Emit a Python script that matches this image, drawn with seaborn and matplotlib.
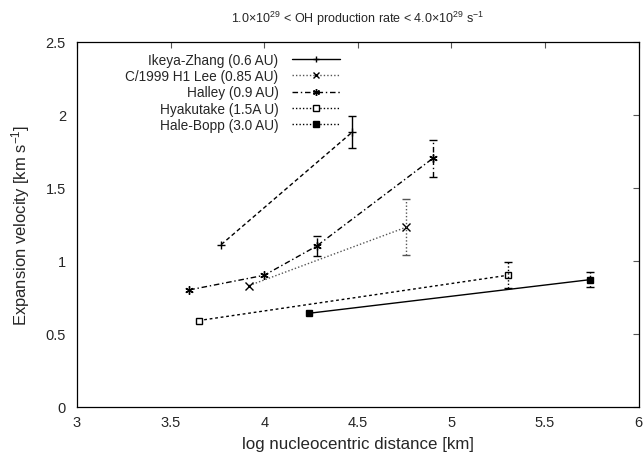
import matplotlib
matplotlib.use("Agg")
import matplotlib.pyplot as plt
import numpy as np
import pandas as pd
import seaborn as sns
from matplotlib.lines import Line2D
from matplotlib.ticker import FormatStrFormatter, MultipleLocator

NAN = np.nan

LABELS = [
    "Ikeya-Zhang (0.6 AU)",
    "C/1999 H1 Lee (0.85 AU)",
    "Halley (0.9 AU)",
    "Hyakutake (1.5A U)",
    "Hale-Bopp (3.0 AU)",
]

# log distance, velocity, lower / upper error bound (NaN = no bar)
IKEYA_X = [3.77, 4.47]
IKEYA_Y = [1.11, 1.88]
IKEYA_LO = [NAN, 1.77]
IKEYA_HI = [NAN, 1.99]

LEE_X = [3.92, 4.76]
LEE_Y = [0.83, 1.23]
LEE_LO = [NAN, 1.04]
LEE_HI = [NAN, 1.42]

HALLEY_X = [3.60, 4.00, 4.28, 4.90]
HALLEY_Y = [0.80, 0.90, 1.10, 1.70]
HALLEY_LO = [NAN, NAN, 1.03, 1.57]
HALLEY_HI = [NAN, NAN, 1.17, 1.83]

HYAKUTAKE_X = [3.65, 5.30]
HYAKUTAKE_Y = [0.59, 0.90]
HYAKUTAKE_LO = [NAN, 0.81]
HYAKUTAKE_HI = [NAN, 0.99]

HALEBOPP_X = [4.24, 5.74]
HALEBOPP_Y = [0.64, 0.87]
HALEBOPP_LO = [NAN, 0.82]
HALEBOPP_HI = [NAN, 0.92]

ASTERISK = (6, 2, 0)

# (line style on plot, line style in key / error bar, marker, filled, colour)
STYLES = [
    ((0, (3, 2)), "-", "+", True, "black"),
    ((0, (1, 1.5)), (0, (1, 1.5)), "x", True, "#555555"),
    ((0, (4, 2, 1, 2)), (0, (4, 2, 1, 2)), ASTERISK, True, "black"),
    ((0, (2, 2)), (0, (1, 1.5)), "s", False, "black"),
    ("-", (0, (1, 1.5)), "s", True, "black"),
]


def build_frame() -> pd.DataFrame:
    series = [
        (IKEYA_X, IKEYA_Y, IKEYA_LO, IKEYA_HI),
        (LEE_X, LEE_Y, LEE_LO, LEE_HI),
        (HALLEY_X, HALLEY_Y, HALLEY_LO, HALLEY_HI),
        (HYAKUTAKE_X, HYAKUTAKE_Y, HYAKUTAKE_LO, HYAKUTAKE_HI),
        (HALEBOPP_X, HALEBOPP_Y, HALEBOPP_LO, HALEBOPP_HI),
    ]
    frames = []
    for label, (xs, ys, lo, hi) in zip(LABELS, series):
        frames.append(pd.DataFrame({"comet": label, "x": xs, "y": ys, "lo": lo, "hi": hi}))
    return pd.concat(frames, ignore_index=True)


def main() -> None:
    frame = build_frame()

    sns.set_theme(style="white")
    plt.rcParams["font.family"] = ["Liberation Sans", "DejaVu Sans"]
    plt.rcParams["mathtext.fontset"] = "custom"
    plt.rcParams["mathtext.rm"] = "Liberation Sans"
    plt.rcParams["mathtext.it"] = "Liberation Sans"

    fig = plt.figure(figsize=(6.44, 4.60), dpi=100)
    ax = fig.add_axes([0.1196, 0.1137, 0.8719, 0.7935])

    handles = []
    for label, (ls_plot, ls_key, marker, filled, color) in zip(LABELS, STYLES):
        sub = frame[frame["comet"] == label]
        face = color if filled else "white"
        msize = 5 if marker == "s" else 6
        sns.lineplot(
            data=sub, x="x", y="y", ax=ax, color=color, linewidth=1.0,
            linestyle=ls_plot, marker=marker, markersize=msize,
            markerfacecolor=face, markeredgecolor="black", markeredgewidth=1.0,
            sort=False, estimator=None, legend=False,
        )
        bars = sub.dropna(subset=["lo", "hi"])
        eb = ax.errorbar(
            bars["x"], bars["y"],
            yerr=[bars["y"] - bars["lo"], bars["hi"] - bars["y"]],
            fmt="none", ecolor=color, elinewidth=1.0, capsize=3, capthick=1.0,
        )
        for col in eb[2]:
            col.set_linestyle(ls_key)
        handles.append(
            Line2D([], [], color=color, linestyle=ls_key, linewidth=1.0, marker=marker,
                   markersize=msize - 1, markerfacecolor=face, markeredgecolor="black",
                   markeredgewidth=1.0)
        )

    ax.set_xlim(3, 6)
    ax.set_ylim(0, 2.5)
    ax.xaxis.set_major_locator(MultipleLocator(0.5))
    ax.yaxis.set_major_locator(MultipleLocator(0.5))
    ax.xaxis.set_major_formatter(FormatStrFormatter("%g"))
    ax.yaxis.set_major_formatter(FormatStrFormatter("%g"))
    ax.tick_params(direction="in", top=True, right=True, length=4, width=0.8,
                   labelsize=10.5, color="#555555")
    ax.tick_params(axis="x", pad=6)
    ax.tick_params(axis="y", pad=8)
    for spine in ax.spines.values():
        spine.set_color("black")
        spine.set_linewidth(0.9)

    ax.set_xlabel("log nucleocentric distance [km]", fontsize=12.2, labelpad=5)
    ax.set_ylabel(r"Expansion velocity [km s$^{-1}$]", fontsize=12, labelpad=10)
    ax.set_title(r"1.0$\times$10$^{29}$ < OH production rate < 4.0$\times$10$^{29}$ s$^{-1}$",
                 fontsize=9, pad=14)

    ax.legend(handles, LABELS, loc="upper right", bbox_to_anchor=(0.468, 0.97),
              frameon=False, markerfirst=False, fontsize=9.8, handlelength=3.5,
              handletextpad=1.0, labelspacing=0.17, borderpad=0, borderaxespad=0)

    fig.savefig("out.png", dpi=100)
    plt.close(fig)


if __name__ == "__main__":
    main()
